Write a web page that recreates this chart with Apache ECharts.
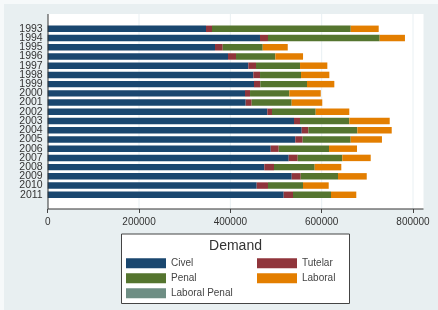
<!DOCTYPE html>
<html>
<head>
<meta charset="utf-8">
<script src="https://cdn.jsdelivr.net/npm/echarts@6/dist/echarts.min.js"></script>
<style>html,body{margin:0;padding:0;background:#fff}#c{width:438px;height:310px}</style>
</head>
<body>
<div id="c"></div>
<script>
const years = ['1993','1994','1995','1996','1997','1998','1999','2000','2001','2002','2003','2004','2005','2006','2007','2008','2009','2010','2011'];
const civel = [346700,464900,366400,394900,439300,450300,451800,432100,433600,480900,539400,556300,542200,488400,527800,474400,534400,457700,516800];
const tutelar = [13100,17500,16900,17500,16900,14700,13800,11000,13100,10300,13100,14500,16200,17500,19700,21200,19700,24700,20400];
const penal = [303800,244600,87600,86100,96400,89800,102300,86100,87600,95700,108000,107300,105100,110200,97700,89100,81700,76700,83200];
const laboral = [61300,55400,54800,60700,59800,62000,59800,68800,67000,73600,88500,75300,68500,61300,62200,58300,62900,56300,55400];
const laboralPenal = [0,0,0,0,0,0,0,0,0,0,0,0,0,0,0,0,0,0,0];
const xTicks = [0,200000,400000,600000,800000];
const seriesNames = ['Civel','Tutelar','Penal','Laboral','Laboral Penal'];
const colors = ['#1a476f','#90353b','#55752f','#e37e00','#6e8e84'];
const legendTitle = 'Demand';

const FONT = 'Liberation Sans, Arial, sans-serif';
const chart = echarts.init(document.getElementById('c'), null, {renderer:'canvas'});
const dataSets = [civel, tutelar, penal, laboral, laboralPenal];

const gridTop = 24.2, gridH = 175.2, gridLeft = 47.7, gridW = 365.3;
chart.setOption({
  animation: false,
  backgroundColor: '#f6f9fa',
  color: colors,
  grid: {left: gridLeft, top: gridTop, width: gridW, height: gridH, containLabel: false},
  xAxis: {
    type: 'value', min: xTicks[0], max: xTicks[xTicks.length-1], interval: xTicks[1]-xTicks[0],
    offset: 209 - (gridTop + gridH),
    axisLine: {show: false},
    axisTick: {show: true, length: 4, lineStyle: {color: '#444'}},
    splitLine: {show: false},
    axisLabel: {color: '#333', fontFamily: FONT, fontSize: 10, margin: 8, formatter: v => String(v)}
  },
  yAxis: {
    type: 'category', data: years, inverse: true,
    axisLine: {show: false}, axisTick: {show: false},
    axisLabel: {color: '#333', fontFamily: FONT, fontSize: 10.5, margin: 5, interval: 0, hideOverlap: false}
  },
  legend: {
    data: seriesNames, left: 126, top: 255.8, width: 270, padding: 0,
    itemGap: 0, itemWidth: 40, itemHeight: 10, itemTextGap: 7, icon: 'rect',
    textStyle: {color: '#444', fontFamily: FONT, fontSize: 10, width: 86, lineHeight: 15, height: 15, overflow: 'truncate'}
  },
  series: seriesNames.map((n, i) => ({
    name: n, type: 'bar', stack: 'total', data: dataSets[i], barWidth: '70%',
    itemStyle: {color: colors[i]}
  }))
});

const elements = [
  {type:'rect', z:-20, shape:{x:4,y:4,width:434,height:306}, style:{fill:'#e8eff1'}, silent:true},
  {type:'rect', z:-19, shape:{x:48,y:14,width:375.5,height:195}, style:{fill:'#ffffff'}, silent:true}
];
xTicks.forEach(v => {
  const px = chart.convertToPixel({xAxisIndex:0}, v);
  if (v !== 0) elements.push({type:'line', z:-18, shape:{x1:px,y1:14,x2:px,y2:209}, style:{stroke:'#e9f0f3', lineWidth:1}, silent:true});
});
elements.push({type:'line', z:10, shape:{x1:48,y1:14,x2:48,y2:209}, style:{stroke:'#333', lineWidth:1}, silent:true});
elements.push({type:'line', z:10, shape:{x1:48,y1:209,x2:423.5,y2:209}, style:{stroke:'#333', lineWidth:1}, silent:true});
elements.push({type:'rect', z:-5, shape:{x:121.5,y:234,width:228,height:69.5}, style:{fill:'#ffffff', stroke:'#444', lineWidth:1}, silent:true});
elements.push({type:'text', z:10, x:235.5, y:246.5, style:{text: legendTitle, fill:'#333', font:'14px ' + FONT, textAlign:'center', textVerticalAlign:'middle'}, silent:true});
chart.setOption({graphic: elements});
</script>
</body>
</html>
